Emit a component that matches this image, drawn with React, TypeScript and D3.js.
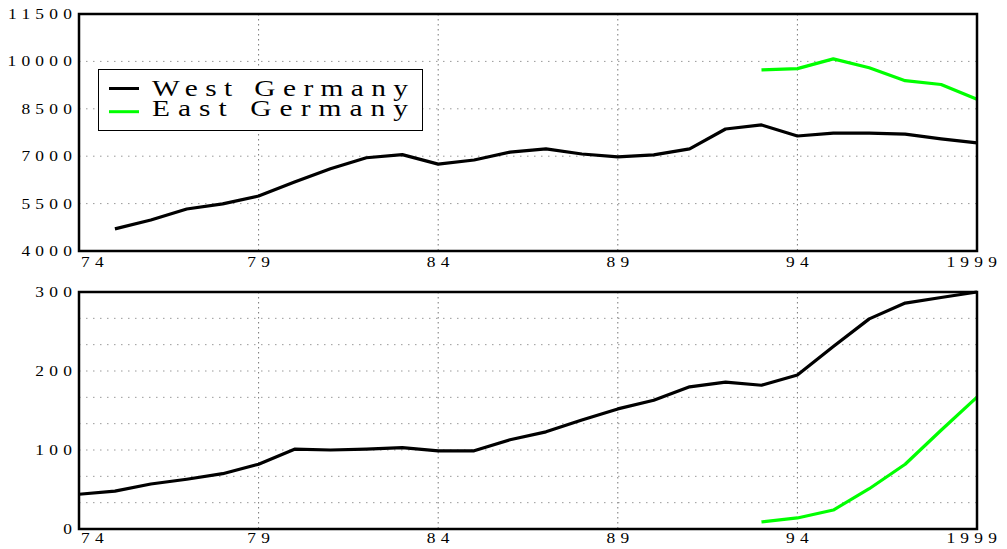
import React, { useEffect, useRef } from 'react';
import * as d3 from 'd3';

// top panel: West / East Germany levels
const topWestYears = [75, 76, 77, 78, 79, 80, 81, 82, 83, 84, 85, 86, 87, 88, 89, 90, 91, 92, 93, 94, 95, 96, 97, 98, 99];
const topWest = [4700, 4980, 5330, 5490, 5740, 6180, 6600, 6950, 7050, 6750, 6880, 7130, 7230, 7070, 6980, 7040, 7230, 7860, 7990, 7640, 7730, 7730, 7700, 7550, 7420];
const topEastYears = [93, 94, 95, 96, 97, 98, 99];
const topEast = [9730, 9770, 10080, 9800, 9390, 9270, 8800];

// bottom panel
const botWestYears = [74, 75, 76, 77, 78, 79, 80, 81, 82, 83, 84, 85, 86, 87, 88, 89, 90, 91, 92, 93, 94, 95, 96, 97, 98, 99];
const botWest = [44, 48, 57, 63, 70, 82, 101, 100, 101, 103, 99, 99, 113, 123, 138, 152, 163, 180, 186, 182, 195, 231, 266, 286, 293, 300];
const botEastYears = [93, 94, 95, 96, 97, 98, 99];
const botEast = [9, 14, 24, 51, 82, 125, 167];

const xTicks = [74, 79, 84, 89, 94, 99];
const xTickLabels = ['74', '79', '84', '89', '94', '1999'];
const topYTicks = [4000, 5500, 7000, 8500, 10000, 11500];
const botYTicks = [0, 100, 200, 300];
const botGrid = [33.33, 66.67, 100, 133.33, 166.67, 200, 233.33, 266.67];

const seriesNames = ['West Germany', 'East Germany'];
const seriesColors = ['#000000', '#00ff00'];

const FONT = '"Liberation Serif", "DejaVu Serif", serif';
const TICK_SIZE = 14.5;
const TICK_SPACING = 4.4;
const STRETCH = 1.2; // wide, courier-like glyphs

const App: React.FC = () => {
    const svgRef = useRef<SVGSVGElement>(null);

    useEffect(() => {
        if (!svgRef.current) return;
        const svg = d3.select(svgRef.current);
        svg.selectAll('*').remove();

        const left = 79;
        const right = 977;
        const x = d3.scaleLinear().domain([74, 99]).range([left, right]);
        const sp = TICK_SPACING * STRETCH;

        const drawPanel = (
            top: number,
            bottom: number,
            domain: [number, number],
            yTicks: number[],
            hGrid: number[],
            series: { years: number[]; values: number[]; color: string }[],
            xLabelY: number
        ) => {
            const y = d3.scaleLinear().domain(domain).range([bottom, top]);
            const g = svg.append('g');

            // dotted grid
            g.selectAll('line.hg')
                .data(hGrid)
                .enter()
                .append('line')
                .attr('x1', left)
                .attr('x2', right)
                .attr('y1', d => y(d))
                .attr('y2', d => y(d))
                .attr('stroke', '#999')
                .attr('stroke-width', 1)
                .attr('stroke-dasharray', '1.5,5.5');

            g.selectAll('line.vg')
                .data(xTicks.slice(1, -1))
                .enter()
                .append('line')
                .attr('x1', d => x(d))
                .attr('x2', d => x(d))
                .attr('y1', top)
                .attr('y2', bottom)
                .attr('stroke', '#777')
                .attr('stroke-width', 1)
                .attr('stroke-dasharray', '1.5,3.5');

            // lines
            const line = d3.line<[number, number]>()
                .x(d => x(d[0]))
                .y(d => y(d[1]));
            series.forEach(s => {
                g.append('path')
                    .datum(s.years.map((yr, i) => [yr, s.values[i]] as [number, number]))
                    .attr('d', line)
                    .attr('fill', 'none')
                    .attr('stroke', s.color)
                    .attr('stroke-width', 3.2)
                    .attr('stroke-linejoin', 'round');
            });

            // frame
            g.append('rect')
                .attr('x', left)
                .attr('y', top)
                .attr('width', right - left)
                .attr('height', bottom - top)
                .attr('fill', 'none')
                .attr('stroke', '#000')
                .attr('stroke-width', 2.5);

            // y labels
            g.selectAll('text.yl')
                .data(yTicks)
                .enter()
                .append('text')
                .attr('transform', d => `translate(${72 + sp},${y(d)}) scale(${STRETCH},1)`)
                .attr('dy', '0.35em')
                .attr('text-anchor', 'end')
                .attr('font-family', FONT)
                .attr('font-size', TICK_SIZE)
                .attr('letter-spacing', TICK_SPACING)
                .attr('fill', '#000')
                .text(d => String(d));

            // x labels
            g.selectAll('text.xl')
                .data(xTicks)
                .enter()
                .append('text')
                .attr('transform', (d, i) => {
                    const px = i === 0 ? x(d) + 2 : i === xTicks.length - 1 ? 997 + sp : x(d) + sp / 2;
                    return `translate(${px},${xLabelY}) scale(${STRETCH},1)`;
                })
                .attr('dy', '0.35em')
                .attr('text-anchor', (d, i) => (i === 0 ? 'start' : i === xTicks.length - 1 ? 'end' : 'middle'))
                .attr('font-family', FONT)
                .attr('font-size', TICK_SIZE)
                .attr('letter-spacing', TICK_SPACING)
                .attr('fill', '#000')
                .text((d, i) => xTickLabels[i]);
        };

        drawPanel(14, 251, [4000, 11500], topYTicks, topYTicks.slice(1, -1), [
            { years: topWestYears, values: topWest, color: seriesColors[0] },
            { years: topEastYears, values: topEast, color: seriesColors[1] }
        ], 262);

        drawPanel(292, 529, [0, 300], botYTicks, botGrid, [
            { years: botWestYears, values: botWest, color: seriesColors[0] },
            { years: botEastYears, values: botEast, color: seriesColors[1] }
        ], 538);

        // legend
        const lg = svg.append('g');
        lg.append('rect')
            .attr('x', 98.5)
            .attr('y', 69.5)
            .attr('width', 324)
            .attr('height', 61)
            .attr('fill', '#fff')
            .attr('stroke', '#000')
            .attr('stroke-width', 1);
        const legendStretch = 1.25;
        seriesNames.forEach((name, i) => {
            const cy = 88.5 + i * 23.2;
            lg.append('line')
                .attr('x1', 109)
                .attr('x2', 139)
                .attr('y1', cy)
                .attr('y2', cy)
                .attr('stroke', seriesColors[i])
                .attr('stroke-width', 3);
            lg.append('text')
                .attr('transform', `translate(152,${96 + i * 19.5}) scale(${legendStretch},1)`)
                .attr('font-family', FONT)
                .attr('font-size', 23.5)
                .attr('textLength', 256 / legendStretch)
                .attr('lengthAdjust', 'spacing')
                .attr('fill', '#000')
                .text(name);
        });
    }, []);

    return (
        <svg
            ref={svgRef}
            width={1007}
            height={549}
            style={{ position: 'absolute', left: 0, top: 0, background: '#fff' }}
        ></svg>
    );
};

export default App;
